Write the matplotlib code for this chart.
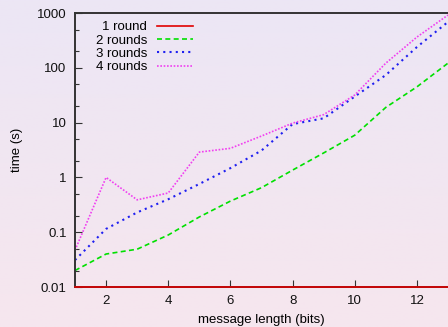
import numpy as np
import matplotlib
matplotlib.use("Agg")
import matplotlib.pyplot as plt
from matplotlib.colors import LinearSegmentedColormap
from matplotlib.ticker import FixedLocator, LogLocator, NullFormatter

# message length in bits
bits = [1, 2, 3, 4, 5, 6, 7, 8, 9, 10, 11, 12, 13]

# time (s) per number of rounds
one_round = [0.01, 0.01, 0.01, 0.01, 0.01, 0.01, 0.01, 0.01, 0.01, 0.01, 0.01, 0.01, 0.01]
two_rounds = [0.02, 0.04, 0.049, 0.089, 0.19, 0.37, 0.65, 1.36, 2.8, 5.9, 19, 45, 122]
three_rounds = [0.031, 0.115, 0.23, 0.40, 0.76, 1.48, 3.1, 9.4, 12, 30, 74, 240, 690]
four_rounds = [0.047, 1.0, 0.39, 0.52, 2.9, 3.4, 5.7, 9.8, 14, 32, 122, 365, 920]

x_ticks = [2, 4, 6, 8, 10, 12]
y_ticks = [0.01, 0.1, 1, 10, 100, 1000]
y_labels = ["0.01", "0.1", "1", "10", "100", "1000"]

plt.rcParams["font.family"] = ["Liberation Sans", "DejaVu Sans"]
plt.rcParams["font.size"] = 9.5

fig = plt.figure(figsize=(4.48, 3.27), dpi=100)

# lavender -> pink background gradient
bg = fig.add_axes([0, 0, 1, 1], zorder=-10)
cmap = LinearSegmentedColormap.from_list("bg", ["#ece6f5", "#f6e6ee"])
bg.imshow(np.linspace(0, 1, 256).reshape(-1, 1), aspect="auto", cmap=cmap,
          extent=[0, 1, 0, 1])
bg.set_axis_off()

ax = fig.add_axes([0.1674, 0.1223, 0.8326, 0.8377])
ax.set_facecolor("none")

ax.plot(bits, one_round, color="#e00000", lw=1.2, label="1 round", clip_on=False, zorder=3)
ax.plot(bits, two_rounds, color="#00e000", lw=1.2, ls=(0, (3, 2)), label="2 rounds")
ax.plot(bits, three_rounds, color="#2020f0", lw=1.5, ls=(0, (1, 2)), label="3 rounds")
ax.plot(bits, four_rounds, color="#f040f0", lw=1.2, ls=(0, (1, 1)), label="4 rounds")

ax.set_yscale("log")
ax.set_xlim(1, 13)
ax.set_ylim(0.01, 1000)
ax.xaxis.set_major_locator(FixedLocator(x_ticks))
ax.set_xticklabels([str(t) for t in x_ticks])
ax.yaxis.set_major_locator(FixedLocator(y_ticks))
ax.set_yticklabels(y_labels)
ax.yaxis.set_minor_locator(LogLocator(base=10, subs=(2, 5)))
ax.yaxis.set_minor_formatter(NullFormatter())

ax.tick_params(axis="both", which="major", direction="in", length=5, width=0.8,
               color="#333333", labelcolor="#111111")
ax.tick_params(axis="y", which="minor", direction="in", length=3, width=0.8, color="#333333")
ax.tick_params(axis="x", pad=6)
ax.tick_params(axis="y", pad=6)
for side in ("left", "top", "bottom"):
    ax.spines[side].set_color("#333333")
    ax.spines[side].set_linewidth(1.4)
ax.spines["right"].set_visible(False)

ax.set_xlabel("message length (bits)", labelpad=4.5)
ax.set_ylabel("time (s)", labelpad=10)

leg = ax.legend(loc="upper left", markerfirst=False, frameon=False,
                handlelength=2.7, handletextpad=0.75, labelspacing=0.08,
                borderaxespad=0.0, bbox_to_anchor=(0.042, 0.99))
# right-align the labels against their line samples
for column in leg._legend_handle_box.get_children():
    column.align = "right"

fig.savefig("out.png", dpi=100)
